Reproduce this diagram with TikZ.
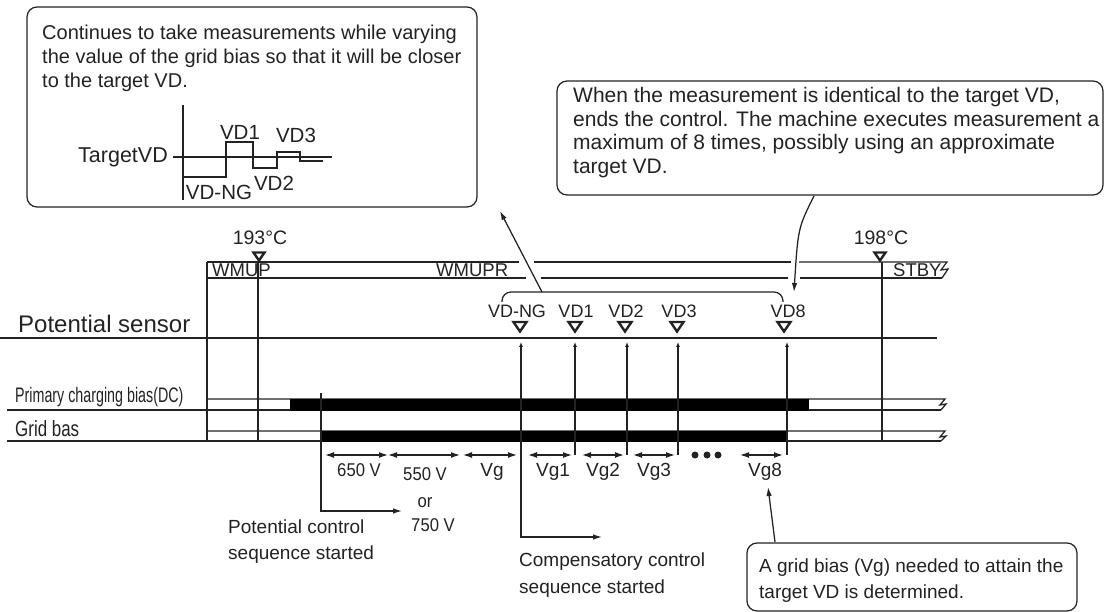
\documentclass[tikz,border=0pt]{standalone}
\usepackage{fontspec}
\setmainfont{Liberation Sans}
\usetikzlibrary{arrows.meta}
\definecolor{ink}{HTML}{222222}
\newcommand\fz[2]{\fontsize{#1}{#2}\selectfont}
\begin{document}
\begin{tikzpicture}[x=1pt,y=-1pt,
  ln/.style={draw=ink,line width=1.25pt},
  box/.style={draw=ink,line width=1.2pt,rounded corners=10pt,inner sep=0pt},
  txt/.style={text=ink,inner sep=0pt,align=left},
  lbl/.style={text=ink,inner sep=0pt,font=\fz{18}{20}},
  arr/.style={-{Latex[length=9pt,width=5.5pt]}},
  sarr/.style={-{Latex[length=5pt,width=4pt]}},
  dim/.style={{Latex[length=9pt,width=6pt]}-{Latex[length=9pt,width=6pt]},draw=ink,line width=1.25pt},
  tri/.style={draw=ink,line width=2.4pt,line join=miter},
  bar/.style={fill=black}]
\useasboundingbox (0,0) rectangle (1106,612);

% ---------- left callout ----------
\node[box,minimum width=450pt,minimum height=200pt] (cA) at (252,107) {};
\node[txt,font=\fz{20}{24},anchor=north west] (cAt) at (42,24.5)
 {Continues to take measurements while varying\\the value of the grid bias so that it will be closer\\to the target VD.};
\draw[ln] (183,105) -- (183,200);
\draw[draw=ink,line width=2.8pt] (173,157) -- (332,157);
\draw[ln] (184,177) -- (226,177) -- (226,142) -- (253,142) -- (253,168) -- (277,168) -- (277,152) -- (300,152) -- (300,161) -- (323,161);
\node[lbl,font=\fz{21.5}{22},anchor=east] (tvd) at (168,157) {TargetVD};
\node[lbl,font=\fz{20.5}{22}] (m1) at (240,132) {VD1};
\node[lbl,font=\fz{20.5}{22}] (m3) at (296,135) {VD3};
\node[lbl,font=\fz{20.5}{22}] (m2) at (274,183) {VD2};
\node[lbl,font=\fz{20.5}{22}] (mng) at (219,192) {VD-NG};

% ---------- right callout ----------
\node[box,minimum width=546pt,minimum height=114pt] (cB) at (830,138) {};
\node[txt,font=\fz{21}{23.5},anchor=north west] (cBt) at (573,87.5)
 {When the measurement is identical to the target VD,\\ends the control. The machine executes measurement a\\maximum of 8 times, possibly using an approximate\\target VD.};

% ---------- bottom callout ----------
\node[box,minimum width=330pt,minimum height=68pt] (cC) at (912,577) {};
\node[txt,font=\fz{19}{26},anchor=north west] (cCt) at (759,559)
 {A grid bias (Vg) needed to attain the\\target VD is determined.};

% ---------- top state bar ----------
\draw[ln] (207,262) -- (519,262);
\draw[ln] (534,262) -- (791,262);
\draw[ln] (799,262) -- (947,262) -- (941,270) -- (948,269) -- (942,278);
\draw[ln] (207,278) -- (526,278);
\draw[ln] (541,278) -- (788,278);
\draw[ln] (800,278) -- (942,278);
\draw[ln] (207,262) -- (207,441);
\draw[ln] (258,262) -- (258,441);
\draw[ln] (882,262) -- (882,441);
\node[lbl,font=\fz{18.5}{20},anchor=base west] (wmup) at (212,277) {WMUP};
\node[lbl,font=\fz{18.5}{20},anchor=base west] (wmupr) at (436,277) {WMUPR};
\node[lbl,font=\fz{18.5}{20},anchor=base west] (stby) at (893,277) {STBY};
\node[lbl,font=\fz{19.5}{20},anchor=base] (t193) at (260,245) {193°C};
\node[lbl,font=\fz{19.5}{20},anchor=base] (t198) at (881,245) {198°C};
\draw[tri] (253.5,252.5) -- (264.5,252.5) -- (259,260.5) -- cycle;
\draw[tri] (874.5,252.5) -- (885.5,252.5) -- (880,260.5) -- cycle;

% ---------- potential sensor ----------
\node[txt,font=\fz{24}{26},anchor=base west] (ps) at (18,333) {Potential sensor};
\draw[ln] (0,338) -- (937,338);
\node[lbl] (vng) at (517,311) {VD-NG};
\node[lbl] (v1) at (576,311) {VD1};
\node[lbl] (v2) at (626,311) {VD2};
\node[lbl] (v3) at (679,311) {VD3};
\node[lbl] (v8) at (788,311) {VD8};
\foreach \x in {520,575,625,677,784}
  \draw[tri] (\x-6.5,322) -- (\x+6.5,322) -- (\x,331.5) -- cycle;
\draw[ln,rounded corners=9pt] (502,302) -- (502,292) -- (783,292) -- (783,302);

% ---------- rows ----------
\node[txt,font=\fz{21}{22},anchor=base west] (pcb) at (15,402) {\scalebox{0.68}[1]{Primary charging bias(DC)}};
\node[txt,font=\fz{22}{22},anchor=base west] (gb) at (15,436) {\scalebox{0.77}[1]{Grid bas}};
\draw[ln] (7,410) -- (941,410);
\draw[ln] (207,399) -- (945,399) -- (940,405) -- (946,404) -- (941,410);
\draw[ln] (7,441) -- (941,441);
\draw[ln] (207,431) -- (945,431) -- (940,437) -- (946,436) -- (941,441);
\fill[bar] (290,398.5) rectangle (809,410.5);
\fill[bar] (321,430.5) rectangle (787,441.5);

% ---------- sequence start lines ----------
\coordinate (pcs) at (321,393);
\coordinate (pce) at (402,511);
\draw[ln,arr] (pcs) |- (pce);
\coordinate (ngt) at (521,342);
\coordinate (nge) at (602,537);
\draw[ln,{Latex[length=5pt,width=4pt]}-{Latex[length=9pt,width=5.5pt]}] (ngt) |- (nge);
\foreach \x/\n in {575/a,627/b,678/c,787/d}{
  \coordinate (vb\n) at (\x,455);
  \coordinate (vt\n) at (\x,342);
  \draw[ln,sarr] (vb\n) -- (vt\n);
}

% ---------- dimension arrows ----------
\foreach \a/\b in {325/388,388/460,463/517,528/572,582/624,633/675,740/783}
  \draw[dim] (\a,455) -- (\b,455);
\foreach \x in {695,707,718} \fill[ink] (\x,455) circle (3.5pt);
\node[lbl,font=\fz{18.5}{20},anchor=base] (l650) at (359,476) {\scalebox{0.9}[1]{650 V}};
\node[lbl,font=\fz{18.5}{20},anchor=base] (l550) at (425,480) {\scalebox{0.9}[1]{550 V}};
\node[lbl,font=\fz{18.5}{20},anchor=base] (lor) at (425,507) {\scalebox{0.9}[1]{or}};
\node[lbl,font=\fz{18.5}{20},anchor=base] (l750) at (433,531) {\scalebox{0.9}[1]{750 V}};
\node[lbl,font=\fz{19}{20},anchor=base] (lvg) at (492,476) {Vg};
\node[lbl,font=\fz{19}{20},anchor=base] (lvg1) at (553,476) {Vg1};
\node[lbl,font=\fz{19}{20},anchor=base] (lvg2) at (603,476) {Vg2};
\node[lbl,font=\fz{19}{20},anchor=base] (lvg3) at (654,476) {Vg3};
\node[lbl,font=\fz{19}{20},anchor=base] (lvg8) at (765,476) {Vg8};

\node[txt,font=\fz{19}{26},anchor=north west] (pct) at (228,520) {Potential control\\sequence started};
\node[txt,font=\fz{19}{27},anchor=north west] (cct) at (519,553) {Compensatory control\\sequence started};

% ---------- callout arrows ----------
\coordinate (bkL) at (542,292);
\coordinate (cAb) at (500,211);
\draw[ln,arr] (bkL) -- (cAb);
\coordinate (cBb) at (814,196);
\coordinate (v8a) at (794,292);
\draw[ln,arr] (cBb) .. controls (798,228) .. (v8a);
\coordinate (cCa) at (775,542);
\coordinate (vg8a) at (768,487);
\draw[ln,arr] (cCa) -- (vg8a);
\end{tikzpicture}
\end{document}
